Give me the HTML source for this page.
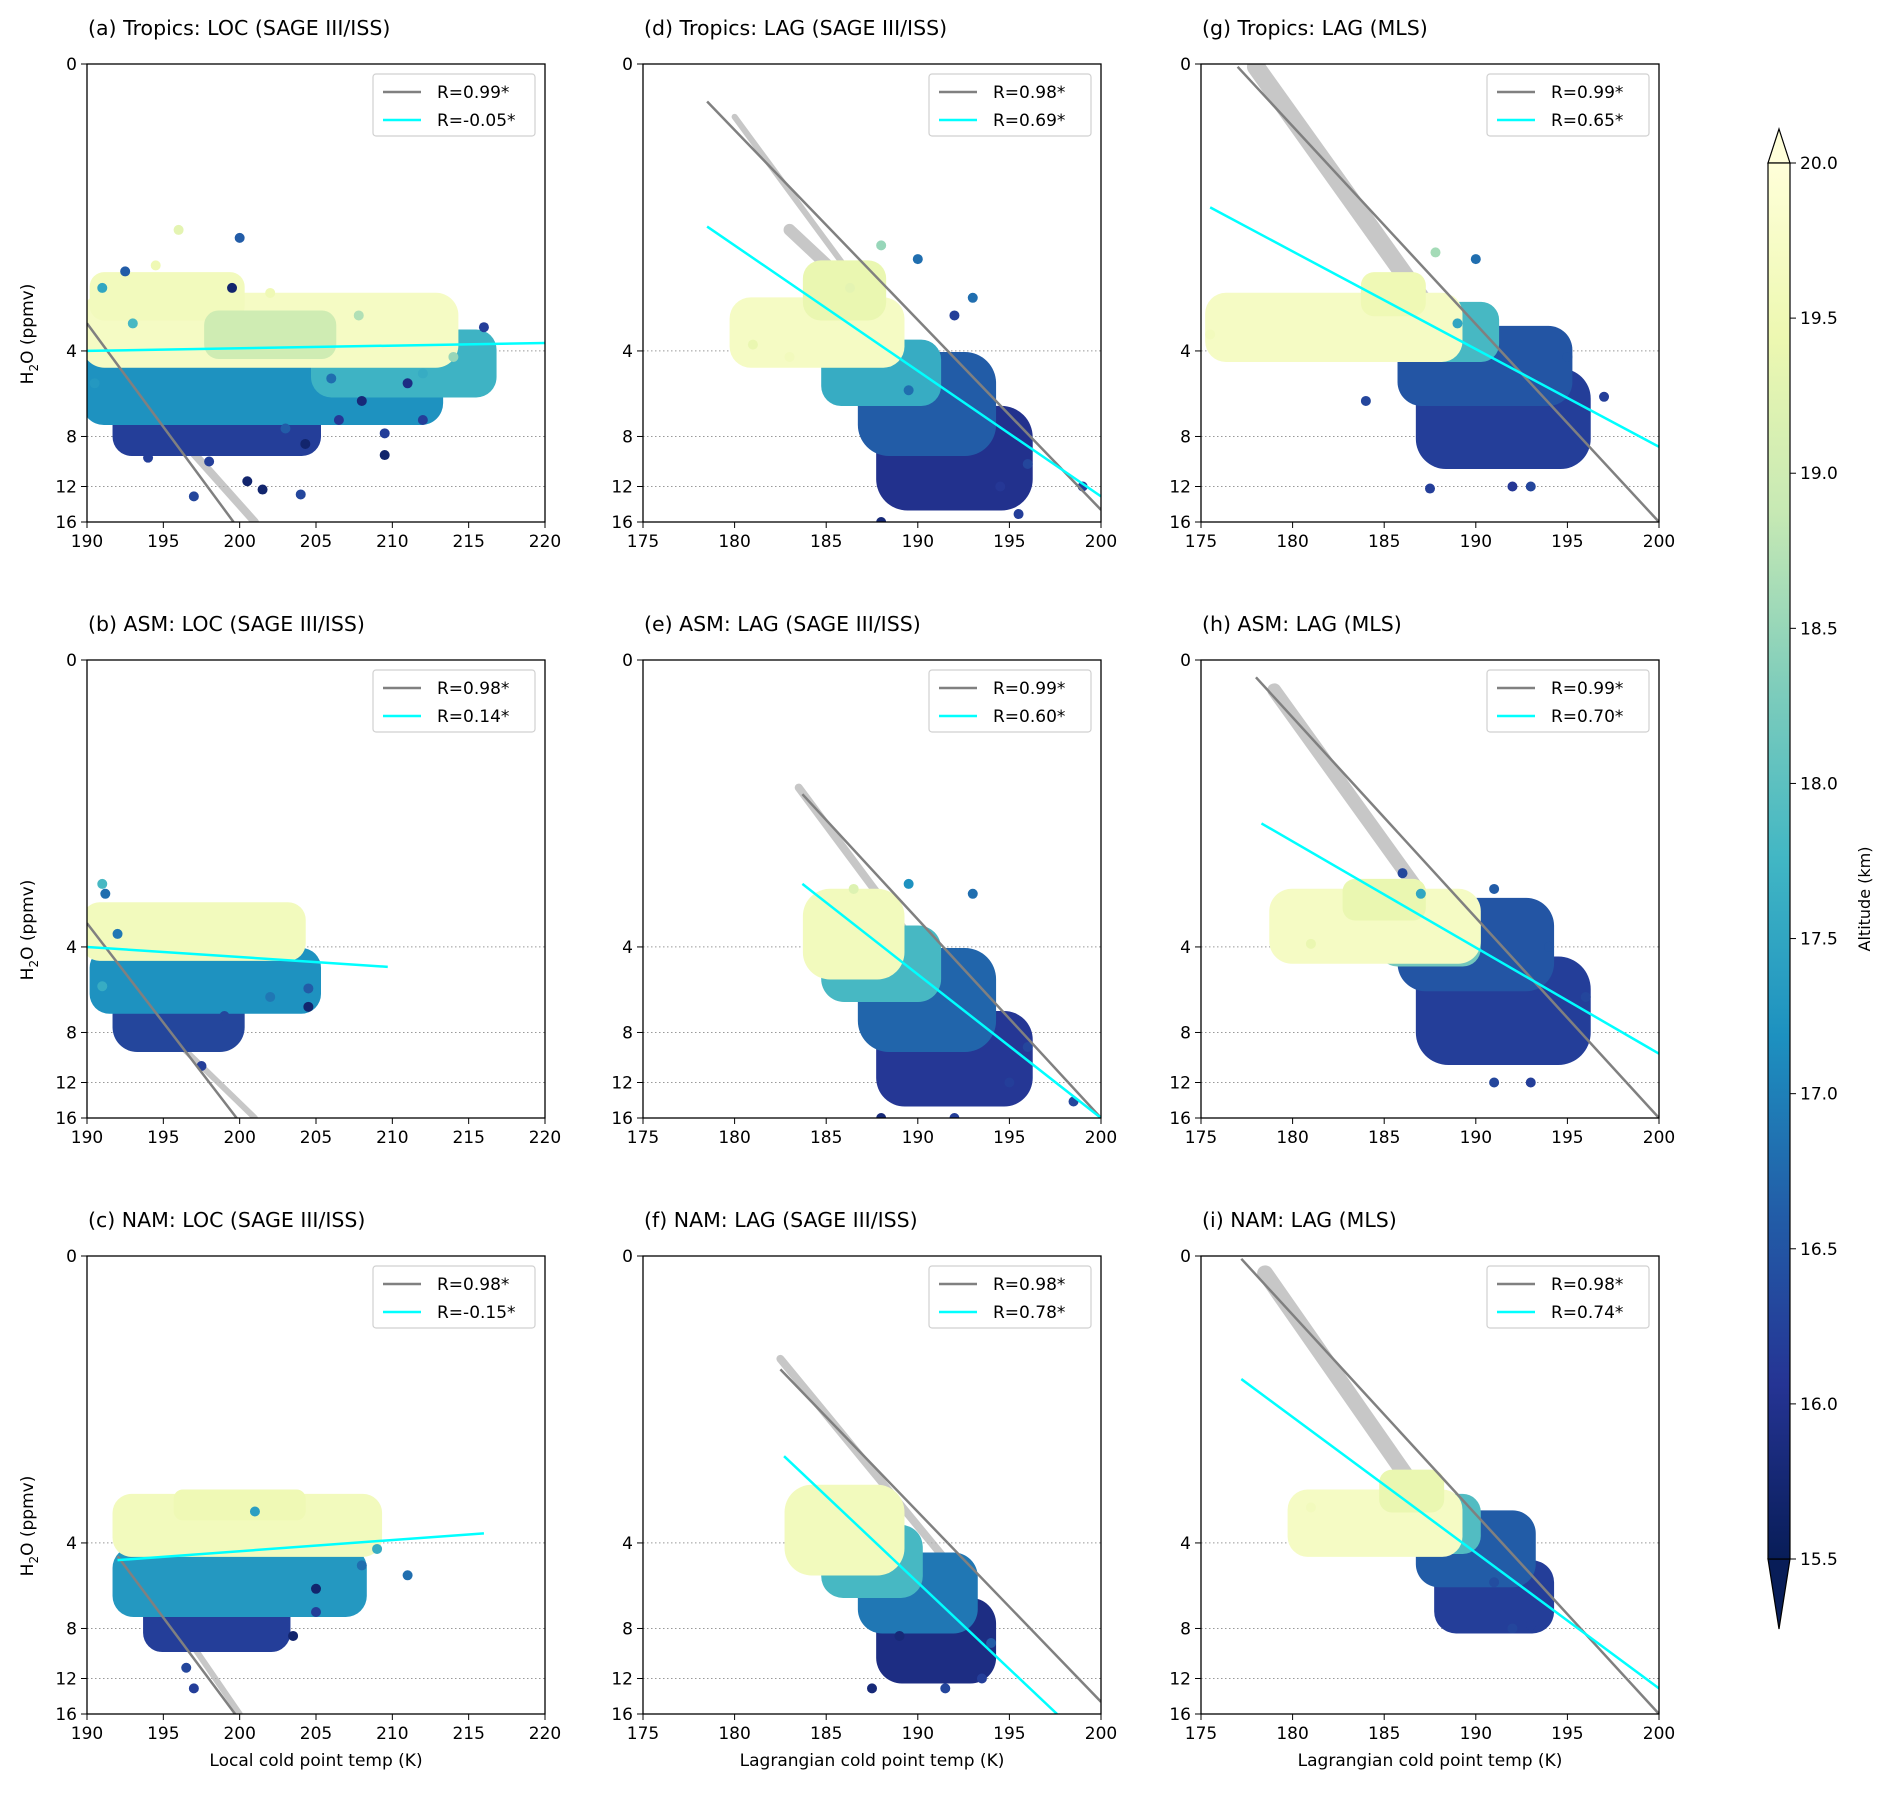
<!DOCTYPE html>
<html><head><meta charset="utf-8">
<style>
html,body{margin:0;padding:0;background:#fff;}
svg{display:block;font-family:"DejaVu Sans","Liberation Sans",sans-serif;}
</style></head>
<body>
<svg id="fig" width="1892" height="1796" viewBox="0 0 1892 1796" xmlns="http://www.w3.org/2000/svg">
<defs>
<linearGradient id="cbgrad" x1="0" y1="1" x2="0" y2="0">
<stop offset="0" stop-color="#081d58"/><stop offset="0.125" stop-color="#253494"/>
<stop offset="0.25" stop-color="#225ea8"/><stop offset="0.375" stop-color="#1d91c0"/>
<stop offset="0.5" stop-color="#41b6c4"/><stop offset="0.625" stop-color="#7fcdbb"/>
<stop offset="0.75" stop-color="#c7e9b4"/><stop offset="0.875" stop-color="#edf8b1"/>
<stop offset="1" stop-color="#ffffd9"/>
</linearGradient>
</defs>
</svg>
<script>
// ---- data ----
const panelTitles=["(a) Tropics: LOC (SAGE III/ISS)","(d) Tropics: LAG (SAGE III/ISS)","(g) Tropics: LAG (MLS)",
"(b) ASM: LOC (SAGE III/ISS)","(e) ASM: LAG (SAGE III/ISS)","(h) ASM: LAG (MLS)",
"(c) NAM: LOC (SAGE III/ISS)","(f) NAM: LAG (SAGE III/ISS)","(i) NAM: LAG (MLS)"];
const xDomains=[[190,220],[175,200],[175,200],[190,220],[175,200],[175,200],[190,220],[175,200],[175,200]];
const xTickVals=[[190,195,200,205,210,215,220],[175,180,185,190,195,200],[175,180,185,190,195,200],
[190,195,200,205,210,215,220],[175,180,185,190,195,200],[175,180,185,190,195,200],
[190,195,200,205,210,215,220],[175,180,185,190,195,200],[175,180,185,190,195,200]];
const yTickVals=[0,4,8,12,16];
const grayR=["R=0.99*","R=0.98*","R=0.99*","R=0.98*","R=0.99*","R=0.99*","R=0.98*","R=0.98*","R=0.98*"];
const cyanR=["R=-0.05*","R=0.69*","R=0.65*","R=0.14*","R=0.60*","R=0.70*","R=-0.15*","R=0.78*","R=0.74*"];
// fit lines [T1,H1,T2,H2]
const grayFits=[[190,3.2,199.6,16],[178.5,0.53,200,14.5],[177,0.4,200,16],[190,3.3,199.8,16],[183.7,1.16,200,16],[178,0.45,200,16],[192,4.45,199.7,16],[182.5,0.98,200,14.5],[177.2,0.4,200,16]];
const cyanFits=[[190,4.0,220,3.75],[178.5,1.46,200,13],[175.5,1.25,200,8.7],[190,4.0,209.7,4.7],[183.7,2.4,200,16],[178.3,1.47,200,9.5],[192,4.6,216,3.7],[182.7,1.98,197.6,16],[177.2,1.06,200,13]];
// tracer bands [T1,H1,T2,H2,width]
const tracers=[[[194.5,6.5,201,16,8]],[[180,0.6,190,4.5,6],[183,1.5,188,3,12]],[[178,0.4,188,3.2,18]],
[[193.5,6.5,201,16,6]],[[183.5,1.1,192,6,8]],[[179,0.5,188,3.2,14]],
[[195,6.5,200,16,6]],[[182.5,0.9,192,5,8]],[[178.5,0.45,188,3.4,16]]];
// clusters [Tmin,Tmax,Hmin,Hmax,alt]
const clusters=[
[[192,205,5.8,9,16.2],[190,213,4.2,7,17.2],[205,216.5,3.5,5.6,17.7],[190,214,2.6,4.4,19.7],[190.5,200,2.2,3.0,19.6],[198,206,3.0,4.1,19.0]],
[[188,196,6.5,14,16.0],[187,194,4.2,9,16.6],[185,191,3.8,6,17.6],[180,189,2.7,4.4,19.7],[184,188,2.0,3.0,19.4]],
[[187,196,4.8,10,16.2],[186,195,3.4,6,16.5],[186,191,2.8,4.2,17.8],[175.5,189,2.6,4.2,19.7],[184,187,2.2,2.9,19.5]],
[[192,200,5,9,16.3],[190.5,205,4.2,6.6,17.2],[190,204,2.9,4.3,19.6]],
[[188,196,7,14,16.1],[187,194,4.2,9,16.7],[185,191,3.5,6,17.8],[184,189,2.6,5,19.6]],
[[187,196,4.5,10,16.2],[186,194,2.8,5.5,16.5],[185,190,3.0,4.5,18.2],[179,190,2.6,4.4,19.7],[183,187,2.4,3.1,19.4]],
[[194,203,6,9.3,16.2],[192,208,4.3,7,17.3],[192,209,2.8,4.3,19.6],[196,204,2.7,3.2,19.5]],
[[188,194,6.5,12,15.9],[187,193,4.5,8,16.9],[185,190,3.6,6,17.8],[183,189,2.6,5,19.6]],
[[188,194,4.8,8,16.2],[187,193,3.2,5.5,16.6],[186,190,2.8,4.2,17.9],[180,189,2.7,4.3,19.7],[185,188,2.3,3.0,19.4]]
];
// outlier points [T,H,alt]
const points=[
[[196,1.5,19.3],[200,1.6,16.6],[192.5,2.1,16.6],[199.5,2.4,15.7],[194.5,2.0,19.5],[191,2.4,17.5],[216,3.3,16.2],[209.5,9.3,15.7],[209.5,7.8,16.2],[212,7,16.2],[204,12.8,16.3],[201.5,12.3,15.7],[200.5,11.5,15.7],[197,13,16.3],[194,9.5,16.2],[204.3,8.5,15.7],[206.5,7,16.1],[207.8,3.0,18.7],[208,6,15.8],[211,5.2,15.9],[190.5,5.2,17.3],[203,7.5,16.6],[198,9.8,16.2],[206,5,16.8],[212,4.8,17.6],[214,4.2,18.5],[193,3.2,17.8],[202,2.5,19.5]],
[[188,1.7,18.5],[190,1.9,16.8],[186.3,2.4,19.3],[193,2.6,16.8],[192,3.0,16.2],[181,3.8,19.4],[188,16,15.8],[195.5,15,16.2],[196,10,16.3],[194.5,12,16.1],[199,12,16.2],[183,4.2,19.6],[189.5,5.5,16.8]],
[[187.8,1.8,18.6],[190,1.9,16.8],[175.5,3.5,19.6],[176,3.1,19.7],[197,5.8,16.2],[192,12,16.1],[193,12,16.3],[187.5,12.2,16.2],[184,6,16.3],[189,3.2,17.5],[195,4.2,16.5]],
[[191,2.4,17.8],[191.2,2.6,16.8],[192,3.6,16.9],[204.5,5.6,16.6],[204.5,6.5,15.7],[197.5,10.5,16.2],[196.5,9,16.3],[199,7,16.3],[202,6,16.9],[191,5.5,17.6]],
[[189.5,2.4,17.2],[193,2.6,16.8],[186.5,2.5,19.2],[188,16,15.8],[192,16,16.2],[195,12,16.2],[198.5,14,16.3],[196,9,16.3]],
[[186,2.2,16.3],[187,2.6,17.5],[191,2.5,16.6],[181,3.9,19.4],[193,12,16.2],[191,12,16.3],[196,6,16.3],[194,4,16.5]],
[[205,5.8,15.7],[205,7,16.2],[211,5.2,16.8],[197,13,16.2],[196.5,11,16.3],[203.5,8.5,15.7],[201,3.1,17.4],[208,4.8,16.8],[209,4.2,17.6]],
[[187.5,13,15.8],[191.5,13,16.3],[193.5,12,16.2],[194,9,16.6],[189,8.5,15.8]],
[[181,3.0,19.6],[191,5.5,16.4],[193,7.8,16.2],[192,8,16.3]]
];
// ---- layout ----
const svg=document.getElementById('fig');
const NS="http://www.w3.org/2000/svg";
const lefts=[87,643,1201], tops=[64,660,1256], W=458, H=458;
const yB=H/Math.log(16/0.391);
const stops=["#081d58","#253494","#225ea8","#1d91c0","#41b6c4","#7fcdbb","#c7e9b4","#edf8b1","#ffffd9"];
function hex(c){return [1,3,5].map(i=>parseInt(c.substr(i,2),16));}
function cmap(a){let t=(a-15.5)/4.5;t=Math.max(0,Math.min(1,t))*8;let i=Math.min(7,Math.floor(t)),f=t-i;
 const c0=hex(stops[i]),c1=hex(stops[i+1]);return 'rgb('+c0.map((v,k)=>Math.round(v+(c1[k]-v)*f)).join(',')+')';}
function mk(tag,attrs,parent){const e=document.createElementNS(NS,tag);for(const k in attrs)e.setAttribute(k,attrs[k]);(parent||svg).appendChild(e);return e;}

for(let p=0;p<9;p++){
 const col=p%3,row=Math.floor(p/3);
 const L=lefts[col],T=tops[row],[x0,x1]=xDomains[p];
 const xs=v=>L+(v-x0)/(x1-x0)*W;
 const ys=v=>T+H-yB*Math.log(16/Math.max(v,0.391));
 const g=mk('g',{});
 
 
 const cp=mk('clipPath',{id:'cp'+p},g);mk('rect',{x:L,y:T,width:W,height:H},cp);
 const title=mk('text',{x:L+1,y:T-29,'font-size':20.5,fill:'#000'},g);title.textContent=panelTitles[p];
 
 
 const plot=mk('g',{'clip-path':'url(#cp'+p+')'},g);
 [4,8,12].forEach(v=>{const gl=mk('line',{x1:L,x2:L+W,y1:ys(v),y2:ys(v),stroke:'#999','stroke-width':1,'stroke-dasharray':'1.5,2.5'},plot);
  
  });
 tracers[p].forEach(t=>{const tl=mk('line',{x1:xs(t[0]),y1:ys(t[1]),x2:xs(t[2]),y2:ys(t[3]),stroke:'#b0b0b0','stroke-width':t[4],'stroke-linecap':'round',opacity:0.7},plot);
  
  });
 clusters[p].forEach(c=>{const xa=xs(c[0])-5,xb=xs(c[1])+5,ya=ys(c[2])-5,yb=ys(c[3])+5;
  const w=xb-xa,h=yb-ya;
  const el=mk('rect',{x:xa,y:ya,width:w,height:h,rx:Math.min(w,h)*0.3,fill:cmap(c[4])},plot);
  
  });
 points[p].forEach(q=>{const d=mk('circle',{cx:xs(q[0]),cy:ys(q[1]),r:5,fill:cmap(q[2])},plot);
  
  });
 const gf=grayFits[p],cf=cyanFits[p];
 const gline=mk('line',{x1:xs(gf[0]),y1:ys(gf[1]),x2:xs(gf[2]),y2:ys(gf[3]),stroke:'#808080','stroke-width':2.5},plot);
 
 
 const cline=mk('line',{x1:xs(cf[0]),y1:ys(cf[1]),x2:xs(cf[2]),y2:ys(cf[3]),stroke:'#00ffff','stroke-width':2.5},plot);
 
 
 const fr=mk('rect',{x:L,y:T,width:W,height:H,fill:'none',stroke:'#000','stroke-width':1.3},g);
 
 
 xTickVals[p].forEach(v=>{const X=xs(v);mk('line',{x1:X,x2:X,y1:T+H,y2:T+H+6,stroke:'#000','stroke-width':1},g);
  const tx=mk('text',{x:X,y:T+H+25,'font-size':17,'text-anchor':'middle'},g);tx.textContent=v;
  
  });
 yTickVals.forEach(v=>{const Y=ys(v===0?0.391:v);mk('line',{x1:L-6,x2:L,y1:Y,y2:Y,stroke:'#000','stroke-width':1},g);
  const ty=mk('text',{x:L-10,y:Y+6,'font-size':17,'text-anchor':'end'},g);ty.textContent=v;
  
  });
 const lg=mk('g',{},g);
 
 
 const lx=L+W-162-10,ly=T+10;
 mk('rect',{x:lx,y:ly,width:162,height:62,rx:3,fill:'#fff',stroke:'#d0d0d0','stroke-width':1.2},lg);
 mk('line',{x1:lx+10,x2:lx+48,y1:ly+18,y2:ly+18,stroke:'#808080','stroke-width':2.5},lg);
 mk('line',{x1:lx+10,x2:lx+48,y1:ly+46,y2:ly+46,stroke:'#00ffff','stroke-width':2.5},lg);
 const t1=mk('text',{x:lx+64,y:ly+24,'font-size':17},lg);t1.textContent=grayR[p];
 
 
 const t2=mk('text',{x:lx+64,y:ly+52,'font-size':17},lg);t2.textContent=cyanR[p];
 
 
 if(col===0){const yl=mk('text',{x:0,y:0,'font-size':17,'text-anchor':'middle',transform:'translate(33,'+(T+270)+') rotate(-90)'},g);
  yl.innerHTML='H<tspan font-size="12" dy="5">2</tspan><tspan dy="-5">O (ppmv)</tspan>';
  
  }
 if(row===2){const xl=mk('text',{x:L+W/2,y:T+H+52,'font-size':17,'text-anchor':'middle'},g);
  xl.textContent=col===0?'Local cold point temp (K)':'Lagrangian cold point temp (K)';
  
  }
}
const cbTicks=[15.5,16.0,16.5,17.0,17.5,18.0,18.5,19.0,19.5,20.0];
const cb=mk('g',{});


const cbL=1768,cbR=1790,cbT=163,cbBot=1559;
mk('polygon',{points:`${(cbL+cbR)/2},129 ${cbR},${cbT} ${cbL},${cbT}`,fill:'#ffffd9',stroke:'#000','stroke-width':1.2},cb);
mk('polygon',{points:`${(cbL+cbR)/2},1629 ${cbR},${cbBot} ${cbL},${cbBot}`,fill:'#081d58',stroke:'#000','stroke-width':1.2},cb);
mk('rect',{x:cbL,y:cbT,width:cbR-cbL,height:cbBot-cbT,fill:'url(#cbgrad)',stroke:'#000','stroke-width':1.2},cb);
cbTicks.forEach(v=>{const Y=cbBot-(v-15.5)/4.5*(cbBot-cbT);
 mk('line',{x1:cbR,x2:cbR+6,y1:Y,y2:Y,stroke:'#000'},cb);
 const t=mk('text',{x:cbR+10,y:Y+6,'font-size':17},cb);t.textContent=v.toFixed(1);
 
 });
const cbl=mk('text',{x:0,y:0,'font-size':16,'text-anchor':'middle',transform:'translate(1870,899) rotate(-90)'},cb);
cbl.textContent='Altitude (km)';


</script>
</body></html>
